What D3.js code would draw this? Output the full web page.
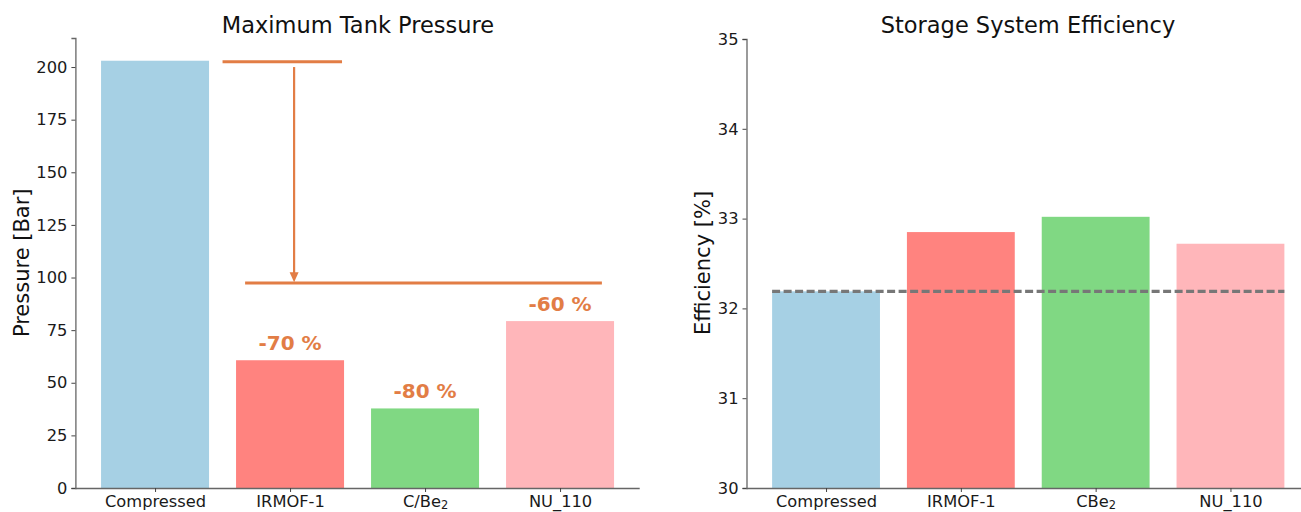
<!DOCTYPE html>
<html>
<head>
<meta charset="utf-8">
<script src="https://cdn.jsdelivr.net/npm/d3@7"></script>
<style>
  html, body { margin: 0; padding: 0; background: #fff; }
  svg { display: block; }
  text { font-family: "DejaVu Sans", sans-serif; }
</style>
</head>
<body>
<svg id="chart" width="1301" height="512"></svg>
<script>
// ---------- data ----------
const pressureCategories = ["Compressed", "IRMOF-1", "C/Be2", "NU_110"];
const pressureValues = [203, 60.7, 37.8, 79.3];
const pressureTicks = [0, 25, 50, 75, 100, 125, 150, 175, 200];
const reductionLabels = ["", "-70 %", "-80 %", "-60 %"];

const efficiencyCategories = ["Compressed", "IRMOF-1", "CBe2", "NU_110"];
const efficiencyValues = [32.19, 32.85, 33.02, 32.72];
const efficiencyTicks = [30, 31, 32, 33, 34, 35];
const efficiencyBaseline = 32.19;

const barColors = ["#a6d0e4", "#ff837f", "#80d883", "#ffb6ba"];
const accent = "#e27d45";

// annotation (data coordinates: x = category index, y = pressure)
const topLine = { x0: 0.5, x1: 1.385, y: 202.5 };
const bottomLine = { x0: 0.667, x1: 3.31, y: 97.4 };
const arrow = { x: 1.03, y0: 200, y1: 97.8 };

const svg = d3.select("#chart");

function subscriptLabel(sel) {
  sel.each(function () {
    const t = d3.select(this);
    const txt = t.text();
    if (txt.endsWith("Be2")) {
      t.text(null);
      t.append("tspan").text(txt.slice(0, -1));
      t.append("tspan").attr("font-size", "0.7em").attr("dy", "0.22em").text("2");
    }
  });
}

function styleAxis(g) {
  g.selectAll(".domain").attr("stroke", "#666").attr("stroke-width", 1.3);
  g.selectAll(".tick line").attr("stroke", "#444").attr("stroke-width", 1);
  g.selectAll(".tick text").attr("fill", "#1a1a1a")
    .attr("font-family", "DejaVu Sans, sans-serif").attr("font-size", 16.3);
}

// ---------- left panel ----------
{
  const x = d3.scaleLinear().domain([-0.59, 3.59]).range([75.4, 639.7]);
  const y = d3.scaleLinear().domain([0, 213.8]).range([488, 38]);
  const g = svg.append("g");

  g.selectAll("rect.bar").data(pressureValues).join("rect")
    .attr("x", (d, i) => x(i - 0.4))
    .attr("width", (d, i) => x(i + 0.4) - x(i - 0.4))
    .attr("y", d => y(d))
    .attr("height", d => y(0) - y(d))
    .attr("fill", (d, i) => barColors[i]);

  const yAxis = g.append("g").attr("transform", `translate(${x(-0.59)},0)`)
    .call(d3.axisLeft(y).tickValues(pressureTicks).tickSize(4).tickPadding(4));
  styleAxis(yAxis);

  const xAxis = g.append("g").attr("transform", `translate(0,${y(0)})`)
    .call(d3.axisBottom(x).tickValues(d3.range(pressureCategories.length))
      .tickFormat(i => pressureCategories[i]).tickSize(4).tickPadding(3));
  xAxis.select(".domain").attr("d", `M${x(-0.59)},0.5H${x(3.59)}`);
  styleAxis(xAxis);
  xAxis.selectAll(".tick text").call(subscriptLabel);

  // annotation lines
  g.append("line").attr("x1", x(topLine.x0)).attr("x2", x(topLine.x1))
    .attr("y1", y(topLine.y)).attr("y2", y(topLine.y))
    .attr("stroke", accent).attr("stroke-width", 3);
  g.append("line").attr("x1", x(bottomLine.x0)).attr("x2", x(bottomLine.x1))
    .attr("y1", y(bottomLine.y)).attr("y2", y(bottomLine.y))
    .attr("stroke", accent).attr("stroke-width", 3);
  const ax = x(arrow.x), ay0 = y(arrow.y0), ay1 = y(arrow.y1);
  g.append("line").attr("x1", ax).attr("x2", ax).attr("y1", ay0).attr("y2", ay1 - 8)
    .attr("stroke", accent).attr("stroke-width", 2.2);
  g.append("path").attr("d", `M${ax - 4.5},${ay1 - 10}L${ax + 4.5},${ay1 - 10}L${ax},${ay1}Z`)
    .attr("fill", accent);

  g.selectAll("text.pct").data(pressureValues).join("text")
    .attr("class", "pct")
    .attr("x", (d, i) => x(i))
    .attr("y", d => y(d + 4.8))
    .attr("text-anchor", "middle")
    .attr("font-family", "Lato, 'Open Sans', sans-serif")
    .attr("font-weight", 700)
    .attr("font-size", 20)
    .attr("fill", accent)
    .text((d, i) => reductionLabels[i]);

  g.append("text").attr("x", 358).attr("y", 33).attr("text-anchor", "middle")
    .attr("font-size", 22.5).attr("fill", "#111").text("Maximum Tank Pressure");

  g.append("text").attr("transform", `translate(29,${y(107)}) rotate(-90)`)
    .attr("text-anchor", "middle").attr("font-size", 21).attr("fill", "#111")
    .text("Pressure [Bar]");
}

// ---------- right panel ----------
{
  const x = d3.scaleLinear().domain([-0.59, 3.59]).range([746.5, 1310]);
  const y = d3.scaleLinear().domain([30, 35]).range([488, 39]);
  const g = svg.append("g");

  g.selectAll("rect.bar").data(efficiencyValues).join("rect")
    .attr("x", (d, i) => x(i - 0.4))
    .attr("width", (d, i) => x(i + 0.4) - x(i - 0.4))
    .attr("y", d => y(d))
    .attr("height", d => y(30) - y(d))
    .attr("fill", (d, i) => barColors[i]);

  g.append("line")
    .attr("x1", x(-0.4)).attr("x2", x(3.4))
    .attr("y1", y(efficiencyBaseline)).attr("y2", y(efficiencyBaseline))
    .attr("stroke", "#777").attr("stroke-width", 3.2)
    .attr("stroke-dasharray", "8,3.5");

  const yAxis = g.append("g").attr("transform", `translate(${x(-0.59)},0)`)
    .call(d3.axisLeft(y).tickValues(efficiencyTicks).tickFormat(d3.format("d")).tickSize(4).tickPadding(4));
  styleAxis(yAxis);

  const xAxis = g.append("g").attr("transform", `translate(0,${y(30)})`)
    .call(d3.axisBottom(x).tickValues(d3.range(efficiencyCategories.length))
      .tickFormat(i => efficiencyCategories[i]).tickSize(4).tickPadding(3));
  xAxis.select(".domain").attr("d", `M${x(-0.59)},0.5H${x(3.59)}`);
  styleAxis(xAxis);
  xAxis.selectAll(".tick text").call(subscriptLabel);

  g.append("text").attr("x", 1028).attr("y", 33).attr("text-anchor", "middle")
    .attr("font-size", 22.5).attr("fill", "#111").text("Storage System Efficiency");

  g.append("text").attr("transform", `translate(710,263) rotate(-90)`)
    .attr("text-anchor", "middle").attr("font-size", 21).attr("fill", "#111")
    .text("Efficiency [%]");
}
</script>
</body>
</html>
